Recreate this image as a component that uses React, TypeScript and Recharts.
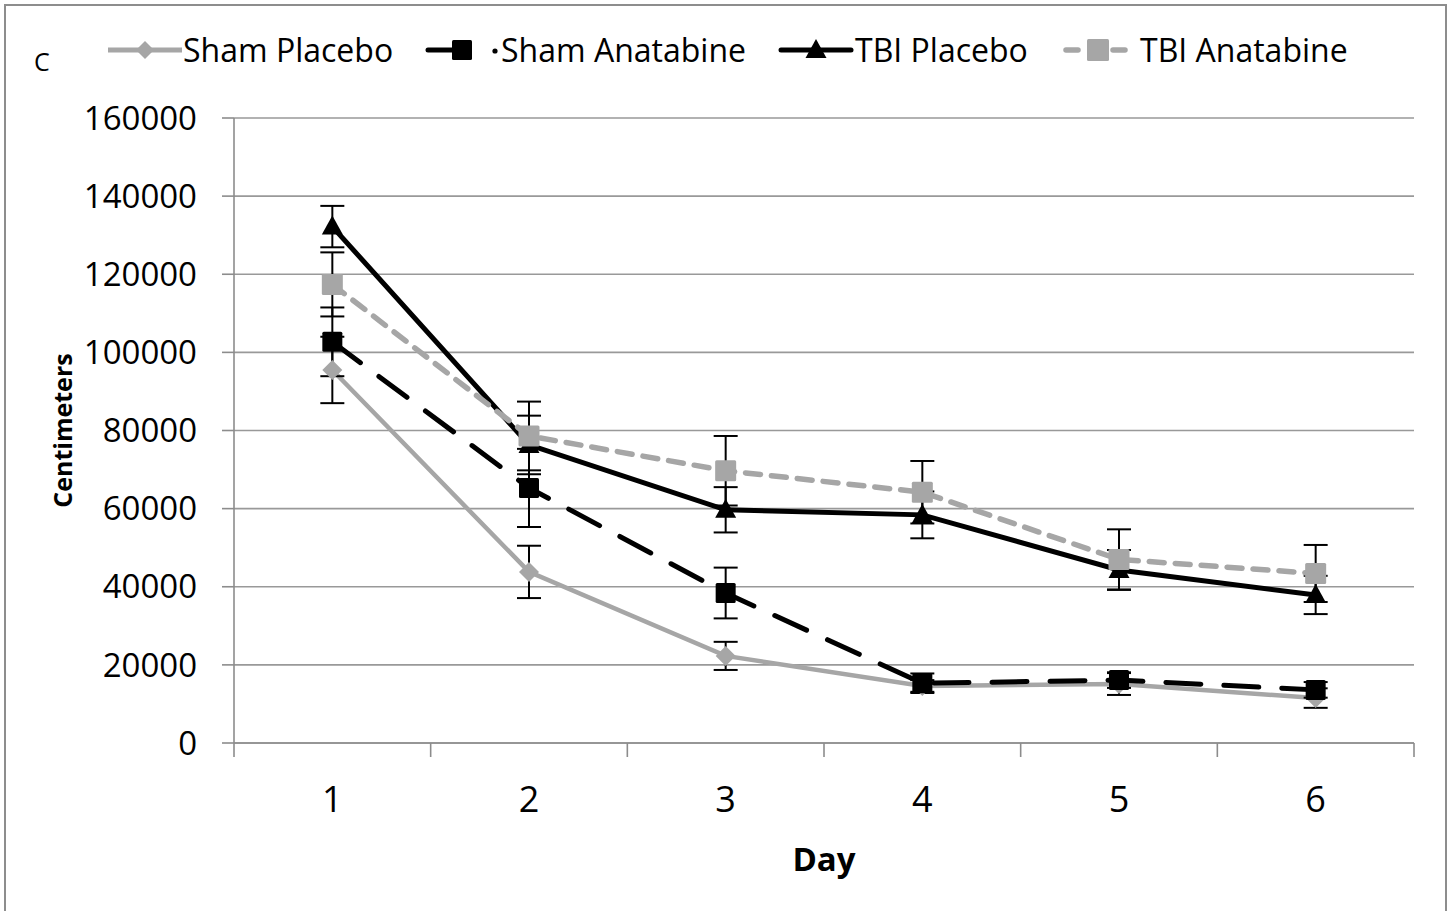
import React from 'react';
import { LineChart, Line, XAxis, YAxis, CartesianGrid, ErrorBar, Legend } from 'recharts';

const days = [1, 2, 3, 4, 5, 6];
const dayBoundaries = [0.5, 1.5, 2.5, 3.5, 4.5, 5.5, 6.5];
const yTicks = [0, 20000, 40000, 60000, 80000, 100000, 120000, 140000, 160000];

const shamPlacebo = [95500, 43800, 22300, 14600, 15100, 11500];
const shamPlaceboErr = [8500, 6700, 3600, 1500, 2800, 2500];
const shamAnatabine = [102700, 65300, 38400, 15300, 16100, 13600];
const shamAnatabineErr = [8800, 10000, 6500, 2500, 2000, 2000];
const tbiPlacebo = [132200, 76300, 59700, 58400, 44300, 37900];
const tbiPlaceboErr = [5300, 7500, 5800, 6000, 5100, 4900];
const tbiAnatabine = [117400, 78600, 69700, 64200, 47000, 43400];
const tbiAnatabineErr = [8200, 8800, 8900, 8000, 7700, 7300];

const seriesNames = ['Sham Placebo', 'Sham Anatabine', 'TBI Placebo', 'TBI Anatabine'];

const data = days.map((d, i) => ({
  day: d,
  sp: shamPlacebo[i],
  spE: shamPlaceboErr[i],
  sa: shamAnatabine[i],
  saE: shamAnatabineErr[i],
  tp: tbiPlacebo[i],
  tpE: tbiPlaceboErr[i],
  ta: tbiAnatabine[i],
  taE: tbiAnatabineErr[i],
}));

const GRAY = '#a6a6a6';
const AXIS = '#8c8c8c';
const FONT = '"Open Sans", sans-serif';

const diamondDot = (p: any) => {
  const { cx, cy, index } = p;
  const s = 10;
  return <path key={`dm${index}`} d={`M${cx},${cy - s}L${cx + s},${cy}L${cx},${cy + s}L${cx - s},${cy}Z`} fill={GRAY} />;
};
const blackSquareDot = (p: any) => {
  const { cx, cy, index } = p;
  const s = 10;
  return <rect key={`bs${index}`} x={cx - s} y={cy - s} width={2 * s} height={2 * s} fill="#000" rx={1.5} />;
};
const graySquareDot = (p: any) => {
  const { cx, cy, index } = p;
  const s = 10.5;
  return <rect key={`gs${index}`} x={cx - s} y={cy - s} width={2 * s} height={2 * s} fill={GRAY} rx={1.5} />;
};
const triangleDot = (p: any) => {
  const { cx, cy, index } = p;
  return <path key={`tr${index}`} d={`M${cx},${cy - 11}L${cx + 10.5},${cy + 8}L${cx - 10.5},${cy + 8}Z`} fill="#000" />;
};

// boundary tick marks drawn from the axis tick position (tick line only, no label)
const BoundaryTick = (p: any) => {
  const { x, y } = p;
  return <line x1={x} y1={y} x2={x} y2={y + 14} stroke={AXIS} strokeWidth={1.6} />;
};

const LegendContent = () => (
  <svg width={1453} height={100} style={{ display: 'block', fontFamily: FONT }}>
    <text x={34} y={71} fontSize={25} fill="#000">C</text>
    {/* Sham Placebo */}
    <line x1={108} y1={50} x2={182} y2={50} stroke={GRAY} strokeWidth={5} />
    <path d="M145,41L154,50L145,59L136,50Z" fill={GRAY} />
    <text x={183} y={62} fontSize={32} fill="#000">{seriesNames[0]}</text>
    {/* Sham Anatabine */}
    <line x1={428} y1={50} x2={462} y2={50} stroke="#000" strokeWidth={5} strokeLinecap="round" />
    <rect x={452} y={40} width={20} height={20} fill="#000" rx={1.5} />
    <circle cx={495} cy={51} r={2.6} fill="#000" />
    <text x={501} y={62} fontSize={32} fill="#000">{seriesNames[1]}</text>
    {/* TBI Placebo */}
    <line x1={781} y1={50} x2={851} y2={50} stroke="#000" strokeWidth={5} strokeLinecap="round" />
    <path d="M816,39L826.5,58L805.5,58Z" fill="#000" />
    <text x={855} y={62} fontSize={32} fill="#000">{seriesNames[2]}</text>
    {/* TBI Anatabine */}
    <line x1={1066} y1={50} x2={1078} y2={50} stroke={GRAY} strokeWidth={5.5} strokeLinecap="round" />
    <line x1={1113} y1={50} x2={1125} y2={50} stroke={GRAY} strokeWidth={5.5} strokeLinecap="round" />
    <rect x={1087} y={39} width={22} height={22} fill={GRAY} rx={1.5} />
    <text x={1140} y={62} fontSize={32} fill="#000">{seriesNames[3]}</text>
  </svg>
);

const YLabel = (props: any) => {
  const vb = props.viewBox || { x: 0, y: 0, width: 0, height: 0 };
  const x = vb.x + 62;
  const y = vb.y + vb.height / 2;
  return (
    <text x={x} y={y} transform={`rotate(-90 ${x} ${y})`} textAnchor="middle" dominantBaseline="central" fontSize={25} fontWeight="bold" fill="#000">
      Centimeters
    </text>
  );
};

const XLabel = (props: any) => {
  const vb = props.viewBox || { x: 0, y: 0, width: 0, height: 0 };
  return (
    <text x={vb.x + vb.width / 2} y={vb.y + 127} textAnchor="middle" fontSize={33} fontWeight="bold" fill="#000">
      Day
    </text>
  );
};

export default function App() {
  return (
    <div style={{ position: 'absolute', left: 0, top: 0, width: 1453, height: 911, overflow: 'hidden', background: '#fff', fontFamily: FONT }}>
      <div style={{ position: 'absolute', left: 4, top: 4, width: 1443, height: 930, border: '2px solid #8d8d8d', boxSizing: 'border-box' }} />
      <LineChart width={1453} height={911} data={data} margin={{ top: 18, right: 39, bottom: 0, left: 0 }} style={{ fontFamily: FONT }}>
        <Legend verticalAlign="top" content={<LegendContent />} wrapperStyle={{ top: 0, left: 0, width: 1453, height: 100 }} />
        <CartesianGrid vertical={false} stroke="#999" strokeWidth={1.6} xAxisId="b" />
        <XAxis
          xAxisId="b"
          type="number"
          dataKey="day"
          domain={[0.5, 6.5]}
          ticks={dayBoundaries}
          tick={<BoundaryTick />}
          tickLine={false}
          tickSize={0}
          tickMargin={0}
          height={1}
          stroke={AXIS}
          strokeWidth={1.6}
          interval={0}
        />
        <XAxis
          xAxisId="l"
          type="number"
          dataKey="day"
          domain={[0.5, 6.5]}
          ticks={days}
          axisLine={false}
          tickLine={false}
          tickSize={0}
          tickMargin={42}
          height={167}
          interval={0}
          tick={{ fontSize: 36, fill: '#000' }}
          label={<XLabel />}
        />
        <YAxis
          type="number"
          domain={[0, 160000]}
          ticks={yTicks}
          interval={0}
          width={234}
          tickSize={12}
          tickMargin={25}
          stroke={AXIS}
          strokeWidth={1.6}
          tick={{ fontSize: 33, fill: '#000' }}
          label={<YLabel />}
        />
        <Line xAxisId="b" dataKey="sp" name={seriesNames[0]} stroke={GRAY} strokeWidth={4.5} dot={diamondDot} activeDot={false} isAnimationActive={false}>
          <ErrorBar dataKey="spE" width={12} stroke="#000" strokeWidth={2} direction="y" />
        </Line>
        <Line xAxisId="l" dataKey="sa" name={seriesNames[1]} stroke="#000" strokeWidth={5} strokeDasharray="35 23" strokeLinecap="round" dot={blackSquareDot} activeDot={false} isAnimationActive={false}>
          <ErrorBar dataKey="saE" width={12} stroke="#000" strokeWidth={2} direction="y" />
        </Line>
        <Line xAxisId="l" dataKey="tp" name={seriesNames[2]} stroke="#000" strokeWidth={5} dot={triangleDot} activeDot={false} isAnimationActive={false}>
          <ErrorBar dataKey="tpE" width={12} stroke="#000" strokeWidth={2} direction="y" />
        </Line>
        <Line xAxisId="l" dataKey="ta" name={seriesNames[3]} stroke={GRAY} strokeWidth={5.5} strokeDasharray="15 11" strokeLinecap="round" dot={graySquareDot} activeDot={false} isAnimationActive={false}>
          <ErrorBar dataKey="taE" width={12} stroke="#000" strokeWidth={2} direction="y" />
        </Line>
      </LineChart>
    </div>
  );
}
